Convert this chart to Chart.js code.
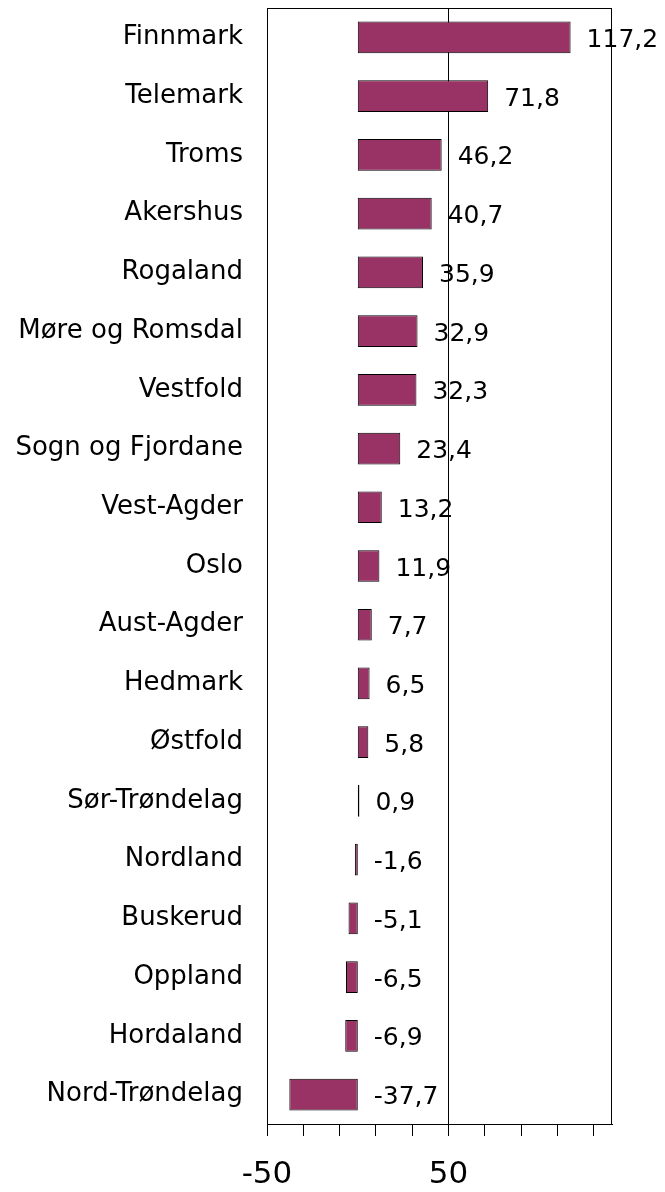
<!DOCTYPE html>
<html>
<head>
<meta charset="utf-8">
<script src="https://cdn.jsdelivr.net/npm/chart.js@4/dist/chart.umd.min.js"></script>
<style>
  html, body { margin: 0; padding: 0; background: #fff; }
  #wrap { width: 665px; height: 1192px; }
</style>
</head>
<body>
<div id="wrap"><canvas id="grafik"></canvas></div>
<script>
const fylker = ["Finnmark", "Telemark", "Troms", "Akershus", "Rogaland", "Møre og Romsdal",
  "Vestfold", "Sogn og Fjordane", "Vest-Agder", "Oslo", "Aust-Agder", "Hedmark", "Østfold",
  "Sør-Trøndelag", "Nordland", "Buskerud", "Oppland", "Hordaland", "Nord-Trøndelag"];
const endring = [117.2, 71.8, 46.2, 40.7, 35.9, 32.9, 32.3, 23.4, 13.2, 11.9, 7.7, 6.5, 5.8,
  0.9, -1.6, -5.1, -6.5, -6.9, -37.7];
const tickVerdier = [-50, -30, -10, 10, 30, 50, 70, 90, 110, 130];
const tickTekst = ["-50", "", "", "", "", "50", "", "", "", ""];

const FONT = "DejaVu Sans, Verdana, sans-serif";

// ramme rundt plottet
const ramme = {
  id: "ramme",
  afterDraw(chart) {
    const { ctx, chartArea: a } = chart;
    ctx.save();
    ctx.strokeStyle = "#000";
    ctx.lineWidth = 1;
    ctx.strokeRect(a.left + 0.5, a.top + 0.5, a.right - a.left - 1, a.bottom - a.top);
    ctx.restore();
  }
};

// verdietiketter
const etiketter = {
  id: "etiketter",
  afterDatasetsDraw(chart) {
    const { ctx } = chart;
    const xs = chart.scales.x;
    const meta = chart.getDatasetMeta(0);
    ctx.save();
    ctx.font = "25px " + FONT;
    ctx.fillStyle = "#000";
    ctx.textAlign = "left";
    ctx.textBaseline = "middle";
    meta.data.forEach((bar, i) => {
      const v = endring[i];
      const x = xs.getPixelForValue(Math.max(v, 0)) + 16;
      ctx.fillText(v.toFixed(1).replace(".", ","), x, bar.y + 3);
    });
    ctx.restore();
  }
};

new Chart(document.getElementById("grafik"), {
  type: "bar",
  data: {
    labels: fylker,
    datasets: [{
      data: endring,
      backgroundColor: "#993366",
      borderColor: "#000",
      borderWidth: 1,
      borderSkipped: false,
      barPercentage: 0.54,
      categoryPercentage: 1
    }]
  },
  options: {
    indexAxis: "y",
    responsive: true,
    maintainAspectRatio: false,
    animation: false,
    layout: { padding: { top: 8, right: 53, left: 0, bottom: 0 } },
    plugins: { legend: { display: false }, tooltip: { enabled: false } },
    scales: {
      x: {
        min: -50,
        max: 140,
        afterBuildTicks: s => { s.ticks = tickVerdier.map(v => ({ value: v })); },
        afterFit: s => { s.height = 68; },
        ticks: {
          autoSkip: false,
          maxRotation: 0,
          padding: 20,
          color: "#000",
          font: { family: FONT, size: 31 },
          callback: (v, i) => tickTekst[i]
        },
        grid: {
          color: c => (c.tick && c.tick.value === 50 ? "#000" : "transparent"),
          tickColor: "#000",
          tickLength: 12,
          lineWidth: 1
        },
        border: { display: true, color: "#000", width: 1 }
      },
      y: {
        afterFit: s => { s.width = 267; s.paddingTop = 0; s.paddingBottom = 0; },
        ticks: {
          padding: 24,
          color: "#000",
          font: { family: FONT, size: 26 }
        },
        grid: { display: false, drawTicks: false },
        border: { display: true, color: "#000", width: 1 }
      }
    }
  },
  plugins: [etiketter, ramme]
});
</script>
</body>
</html>
